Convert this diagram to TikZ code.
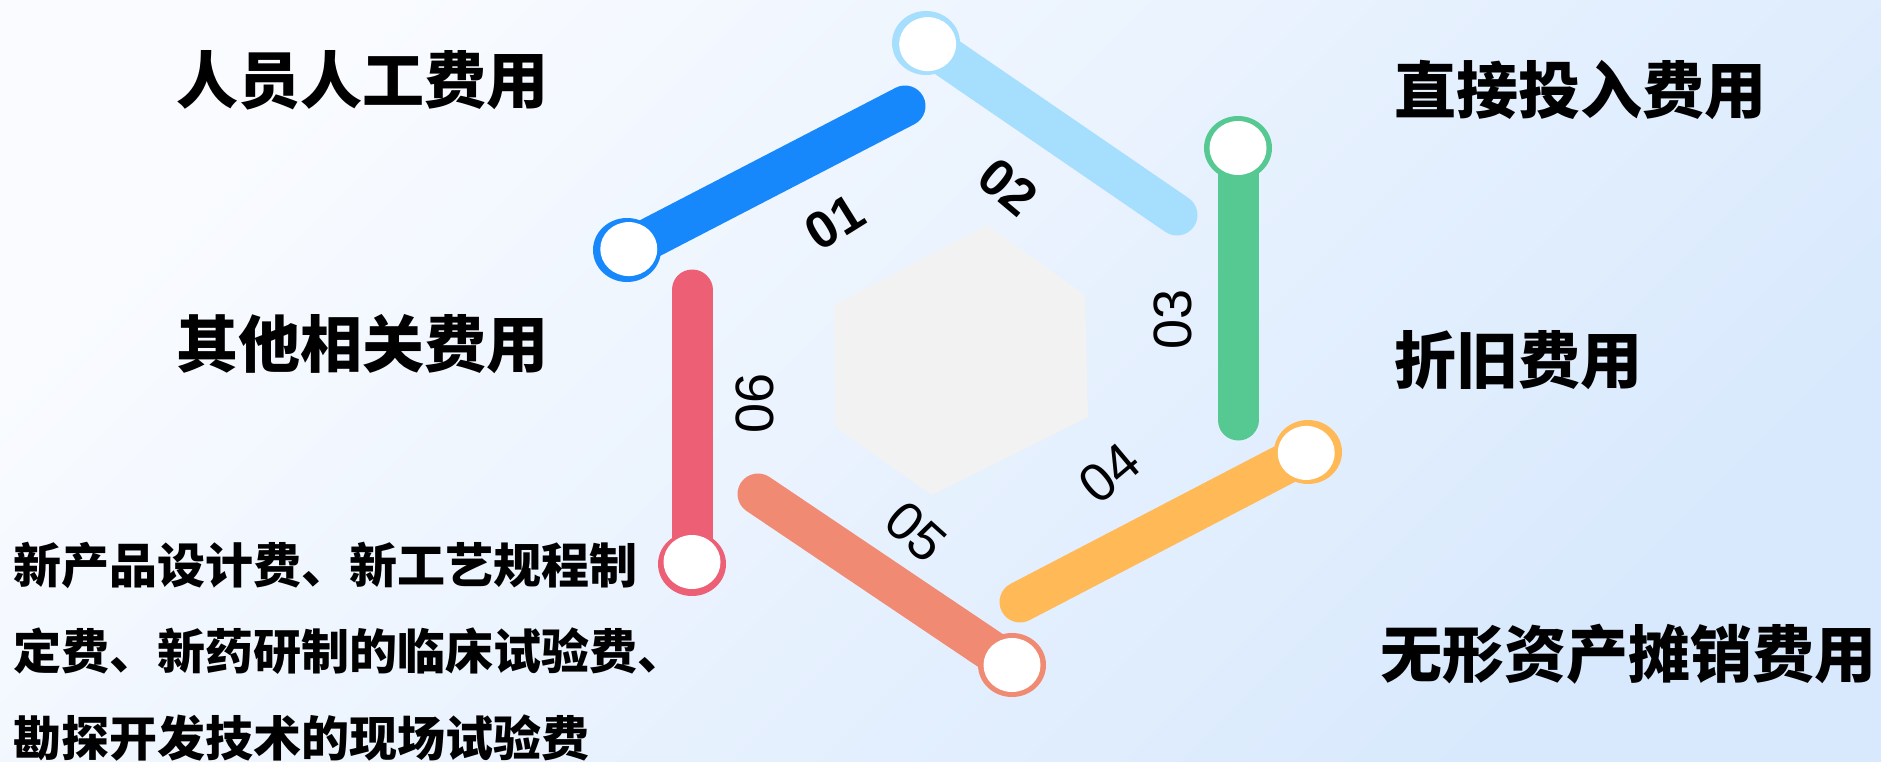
\documentclass[tikz,border=0pt]{standalone}
\usepackage{fontspec}
\setmainfont{Liberation Sans}
\newfontfamily\cjk{Noto Sans CJK SC}
\usetikzlibrary{calc,shapes.geometric}
\definecolor{bgA}{HTML}{F9FBFF}
\definecolor{bgB}{HTML}{D8E9FD}
\definecolor{cA}{HTML}{1688FC}
\definecolor{cB}{HTML}{A6DEFD}
\definecolor{cC}{HTML}{56C993}
\definecolor{cD}{HTML}{FFBA57}
\definecolor{cE}{HTML}{F08A72}
\definecolor{cF}{HTML}{EC5F74}
\definecolor{hexgray}{HTML}{F2F2F2}
\tikzset{
  bar/.style={line width=41pt, line cap=round},
  ringout/.style={ellipse, minimum width=68pt, minimum height=64pt, inner sep=0pt, fill=#1},
  ringin/.style={ellipse, minimum width=57pt, minimum height=54pt, inner sep=0pt, fill=white},
  numlab/.style={inner sep=0pt, font=\fontsize{54}{54}\selectfont},
  numlabb/.style={inner sep=0pt, font=\bfseries\fontsize{52}{52}\selectfont},
  bigtxt/.style={anchor=west, inner sep=0pt, font=\cjk\bfseries\fontsize{62}{62}\selectfont},
  smalltxt/.style={anchor=west, inner sep=0pt, font=\cjk\bfseries\fontsize{48}{48}\selectfont}
}
\begin{document}
\begin{tikzpicture}[x=1pt,y=-1pt]
\shade[top color=bgA, bottom color=bgB, shading angle=45] (0,0) rectangle (1881,762);
\useasboundingbox (0,0) rectangle (1881,762);
% hexagon
\fill[hexgray] (987,225) -- (1085,295) -- (1088,417) -- (932,495) -- (835,427) -- (834,305) -- cycle;
% coordinates
\coordinate (c1) at (627,250); \coordinate (e1) at (905,106);
\coordinate (c2) at (926,43);  \coordinate (e2) at (1177,215);
\coordinate (c3) at (1238,148); \coordinate (e3) at (1238,420);
\coordinate (c4) at (1308,452); \coordinate (e4) at (1020,602);
\coordinate (c5) at (1012,665); \coordinate (e5) at (758,494);
\coordinate (c6) at (692,564); \coordinate (e6) at (692,290);
% bars
\draw[bar, cA] (c1) -- (e1);
\draw[bar, cB] (c2) -- (e2);
\draw[bar, cC] (c3) -- (e3);
\draw[bar, cD] (c4) -- (e4);
\draw[bar, cE] (c5) -- (e5);
\draw[bar, cF] (c6) -- (e6);
% rings
\node[ringout=cA] (o1) at (c1) {};
\node[ringin] (w1) at ($(c1)!2pt!(e1)$) {};
\node[ringout=cB] (o2) at (c2) {};
\node[ringin] (w2) at ($(c2)!2pt!(e2)$) {};
\node[ringout=cC] (o3) at (c3) {};
\node[ringin] (w3) at (c3) {};
\node[ringout=cD] (o4) at (c4) {};
\node[ringin] (w4) at ($(c4)!2pt!(e4)$) {};
\node[ringout=cE] (o5) at (c5) {};
\node[ringin] (w5) at (c5) {};
\node[ringout=cF] (o6) at (c6) {};
\node[ringin] (w6) at ($(c6)!2pt!(e6)$) {};
% number labels
\node[numlabb, rotate=32] (n1) at (835,222) {01};
\node[numlabb, rotate=-40] (n2) at (1008,187) {02};
\node[numlab, rotate=90] (n3) at (1173,319) {03};
\node[numlab, rotate=40] (n4) at (1110,473) {04};
\node[numlab, rotate=-42] (n5) at (916,532) {05};
\node[numlab, rotate=90] (n6) at (755,403) {06};
% texts
\node[bigtxt] (t1) at (176,80) {人员人工费用};
\node[bigtxt] (t2) at (1394,90) {直接投入费用};
\node[bigtxt] (t3) at (176,344) {其他相关费用};
\node[bigtxt] (t4) at (1394,360) {折旧费用};
\node[bigtxt] (t5) at (1380,654) {无形资产摊销费用};
\node[smalltxt] (s1) at (13,565) {新产品设计费、新工艺规程制};
\node[smalltxt] (s2) at (13,651) {定费、新药研制的临床试验费、};
\node[smalltxt] (s3) at (13,738) {勘探开发技术的现场试验费};
\end{tikzpicture}
\end{document}
